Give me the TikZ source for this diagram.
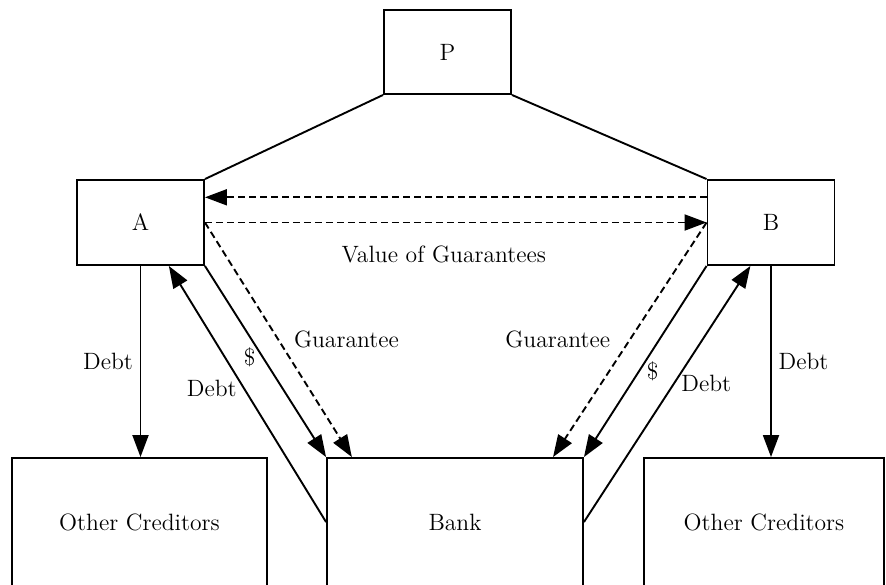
\documentclass[tikz,border=0pt]{standalone}
\usepackage{tikz}
\usetikzlibrary{arrows.meta,calc,positioning}

\begin{document}
\begin{tikzpicture}[x=0.5pt,y=-0.5pt,->,>={Triangle[length=11pt,width=8pt]},line width=0.95pt,
    font=\fontsize{11.8}{14}\selectfont,
    party/.style={rectangle,draw,-,minimum width=63.5pt,minimum height=42.5pt,inner sep=0pt},
    creditor/.style={rectangle,draw,-,minimum height=64pt,inner sep=0pt},
    guarantee/.style={dash pattern=on 3.5pt off 2pt}]

  \useasboundingbox (0,0) rectangle (886,584);

  \node[party,minimum height=42pt] (P) at (447.5,52) {P};
  \node[party] (A) at (140.5,222.5) {A};
  \node[party] (B) at (771,222.5) {B};

  \node[creditor,minimum width=128pt] (bank) at (455,522) {Bank};
  \node[creditor,minimum width=127.5pt] (othA) at (139.5,522) {Other Creditors};
  \node[creditor,minimum width=120pt] (othB) at (764,522) {Other Creditors};

  \path (P.south west) edge[-] (A.north east)
        (P.south east) edge[-] (B.north west);

  % guarantees between A and B
  \draw[guarantee] ($(B.north west)!0.21!(B.south west)$) -- ($(A.north east)!0.21!(A.south east)$);
  \draw[guarantee] (A.east) -- node[below=8pt,xshift=-6pt,-]{Value of Guarantees} (B.west);

  % guarantees to the bank
  \draw[guarantee] (A.east) -- node[right,xshift=4pt]{Guarantee} ($(bank.north west)!0.1!(bank.north east)$);
  \draw[guarantee] (B.west) -- node[left,xshift=-6pt]{Guarantee} ($(bank.north west)!0.88!(bank.north east)$);

  % bank loans
  \draw (A.south east) -- node[left,pos=0.48]{\$} (bank.north west);
  \draw (bank.west) -- node[left,pos=0.52]{Debt} ($(A.south west)!0.72!(A.south east)$);
  \draw (B.south west) -- node[right,pos=0.55]{\$} (bank.north east);
  \draw (bank.east) -- node[right,pos=0.54]{Debt} ($(B.south west)!0.34!(B.south east)$);

  % other creditors
  \draw (A.south) -- node[left]{Debt} (A.south |- othA.north);
  \draw (B.south) -- node[right]{Debt} (B.south |- othB.north);

\end{tikzpicture}
\end{document}
